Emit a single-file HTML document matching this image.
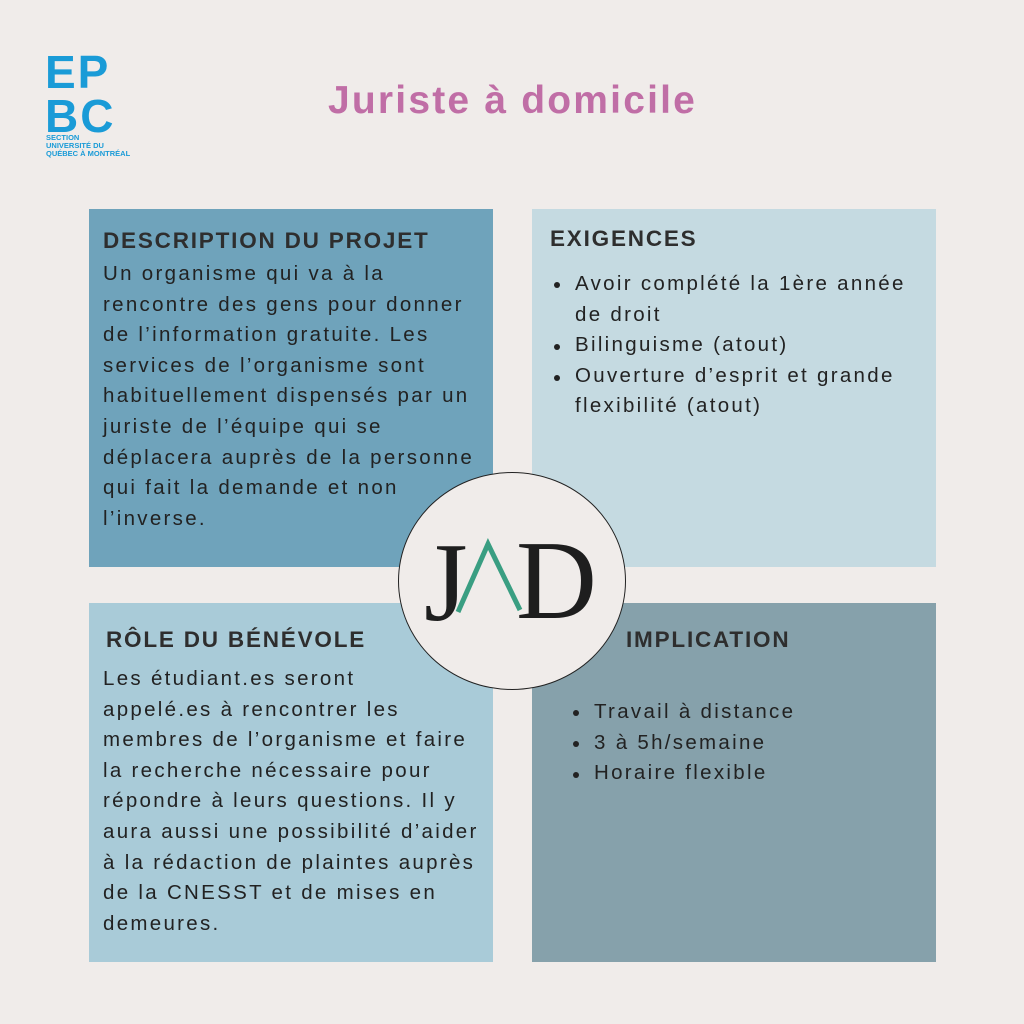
<!DOCTYPE html>
<html><head><meta charset="utf-8"><style>
*{margin:0;padding:0;box-sizing:border-box}
body{width:1024px;height:1024px;background:#f0ecea;position:relative;overflow:hidden;font-family:"Liberation Sans",sans-serif}
.box{position:absolute}
.h{position:absolute;font-weight:bold;font-size:22.5px;letter-spacing:1.8px;color:#2e2e2e;white-space:nowrap}
.t{position:absolute;font-size:20.5px;letter-spacing:2.3px;color:#222;white-space:nowrap;line-height:30.6px}
.b{position:absolute;width:6px;height:6px;border-radius:50%;background:#222}
</style></head><body>
<div style="position:absolute;left:45px;top:50px;color:#1a9bd7;font-weight:bold;font-size:46px;line-height:44px;letter-spacing:2px">EP<br>BC</div>
<div style="position:absolute;left:46px;top:134px;color:#1a9bd7;font-weight:bold;font-size:7.5px;line-height:8px">SECTION<br>UNIVERSITÉ DU<br>QUÉBEC À MONTRÉAL</div>
<div style="position:absolute;left:328px;top:79px;color:#c06ea6;font-weight:bold;font-size:39px;letter-spacing:2.2px">Juriste à domicile</div>

<div class="box" style="left:89px;top:209px;width:404px;height:358px;background:#6fa3bb"></div>
<div class="box" style="left:532px;top:209px;width:404px;height:358px;background:#c5dae1"></div>
<div class="box" style="left:89px;top:603px;width:404px;height:359px;background:#a9cbd8"></div>
<div class="box" style="left:532px;top:603px;width:404px;height:359px;background:#86a1ab"></div>

<div class="h" style="left:103px;top:228px">DESCRIPTION DU PROJET</div>
<div class="t" style="left:103px;top:259px">Un organisme qui va à la<br>rencontre des gens pour donner<br>de l’information gratuite. Les<br>services de l’organisme sont<br>habituellement dispensés par un<br>juriste de l’équipe qui se<br>déplacera auprès de la personne<br>qui fait la demande et non<br>l’inverse.</div>

<div class="h" style="left:550px;top:226px">EXIGENCES</div>
<div class="b" style="left:554px;top:282px"></div>
<div class="b" style="left:554px;top:344px"></div>
<div class="b" style="left:554px;top:375px"></div>
<div class="t" style="left:575px;top:269px">Avoir complété la 1ère année<br>de droit<br>Bilinguisme (atout)<br>Ouverture d’esprit et grande<br>flexibilité (atout)</div>

<div class="h" style="left:106px;top:627px">RÔLE DU BÉNÉVOLE</div>
<div class="t" style="left:103px;top:664px">Les étudiant.es seront<br>appelé.es à rencontrer les<br>membres de l’organisme et faire<br>la recherche nécessaire pour<br>répondre à leurs questions. Il y<br>aura aussi une possibilité d’aider<br>à la rédaction de plaintes auprès<br>de la CNESST et de mises en<br>demeures.</div>

<div class="h" style="left:626px;top:627px">IMPLICATION</div>
<div class="b" style="left:573px;top:710px"></div>
<div class="b" style="left:573px;top:741px"></div>
<div class="b" style="left:573px;top:772px"></div>
<div class="t" style="left:594px;top:697px">Travail à distance<br>3 à 5h/semaine<br>Horaire flexible</div>

<div style="position:absolute;left:398px;top:472px;width:228px;height:218px;border-radius:50%;background:#f0ecea;border:1.5px solid #222"></div>
<svg style="position:absolute;left:398px;top:472px" width="228" height="218">
<text x="26" y="148" font-family="Liberation Serif,serif" font-size="112" fill="#1e1e1e">J</text>
<polyline points="60,140 90,72 122,138" fill="none" stroke="#3a9e82" stroke-width="5"/>
<text x="118" y="146" font-family="Liberation Serif,serif" font-size="112" fill="#1e1e1e">D</text>
</svg>
</body></html>
